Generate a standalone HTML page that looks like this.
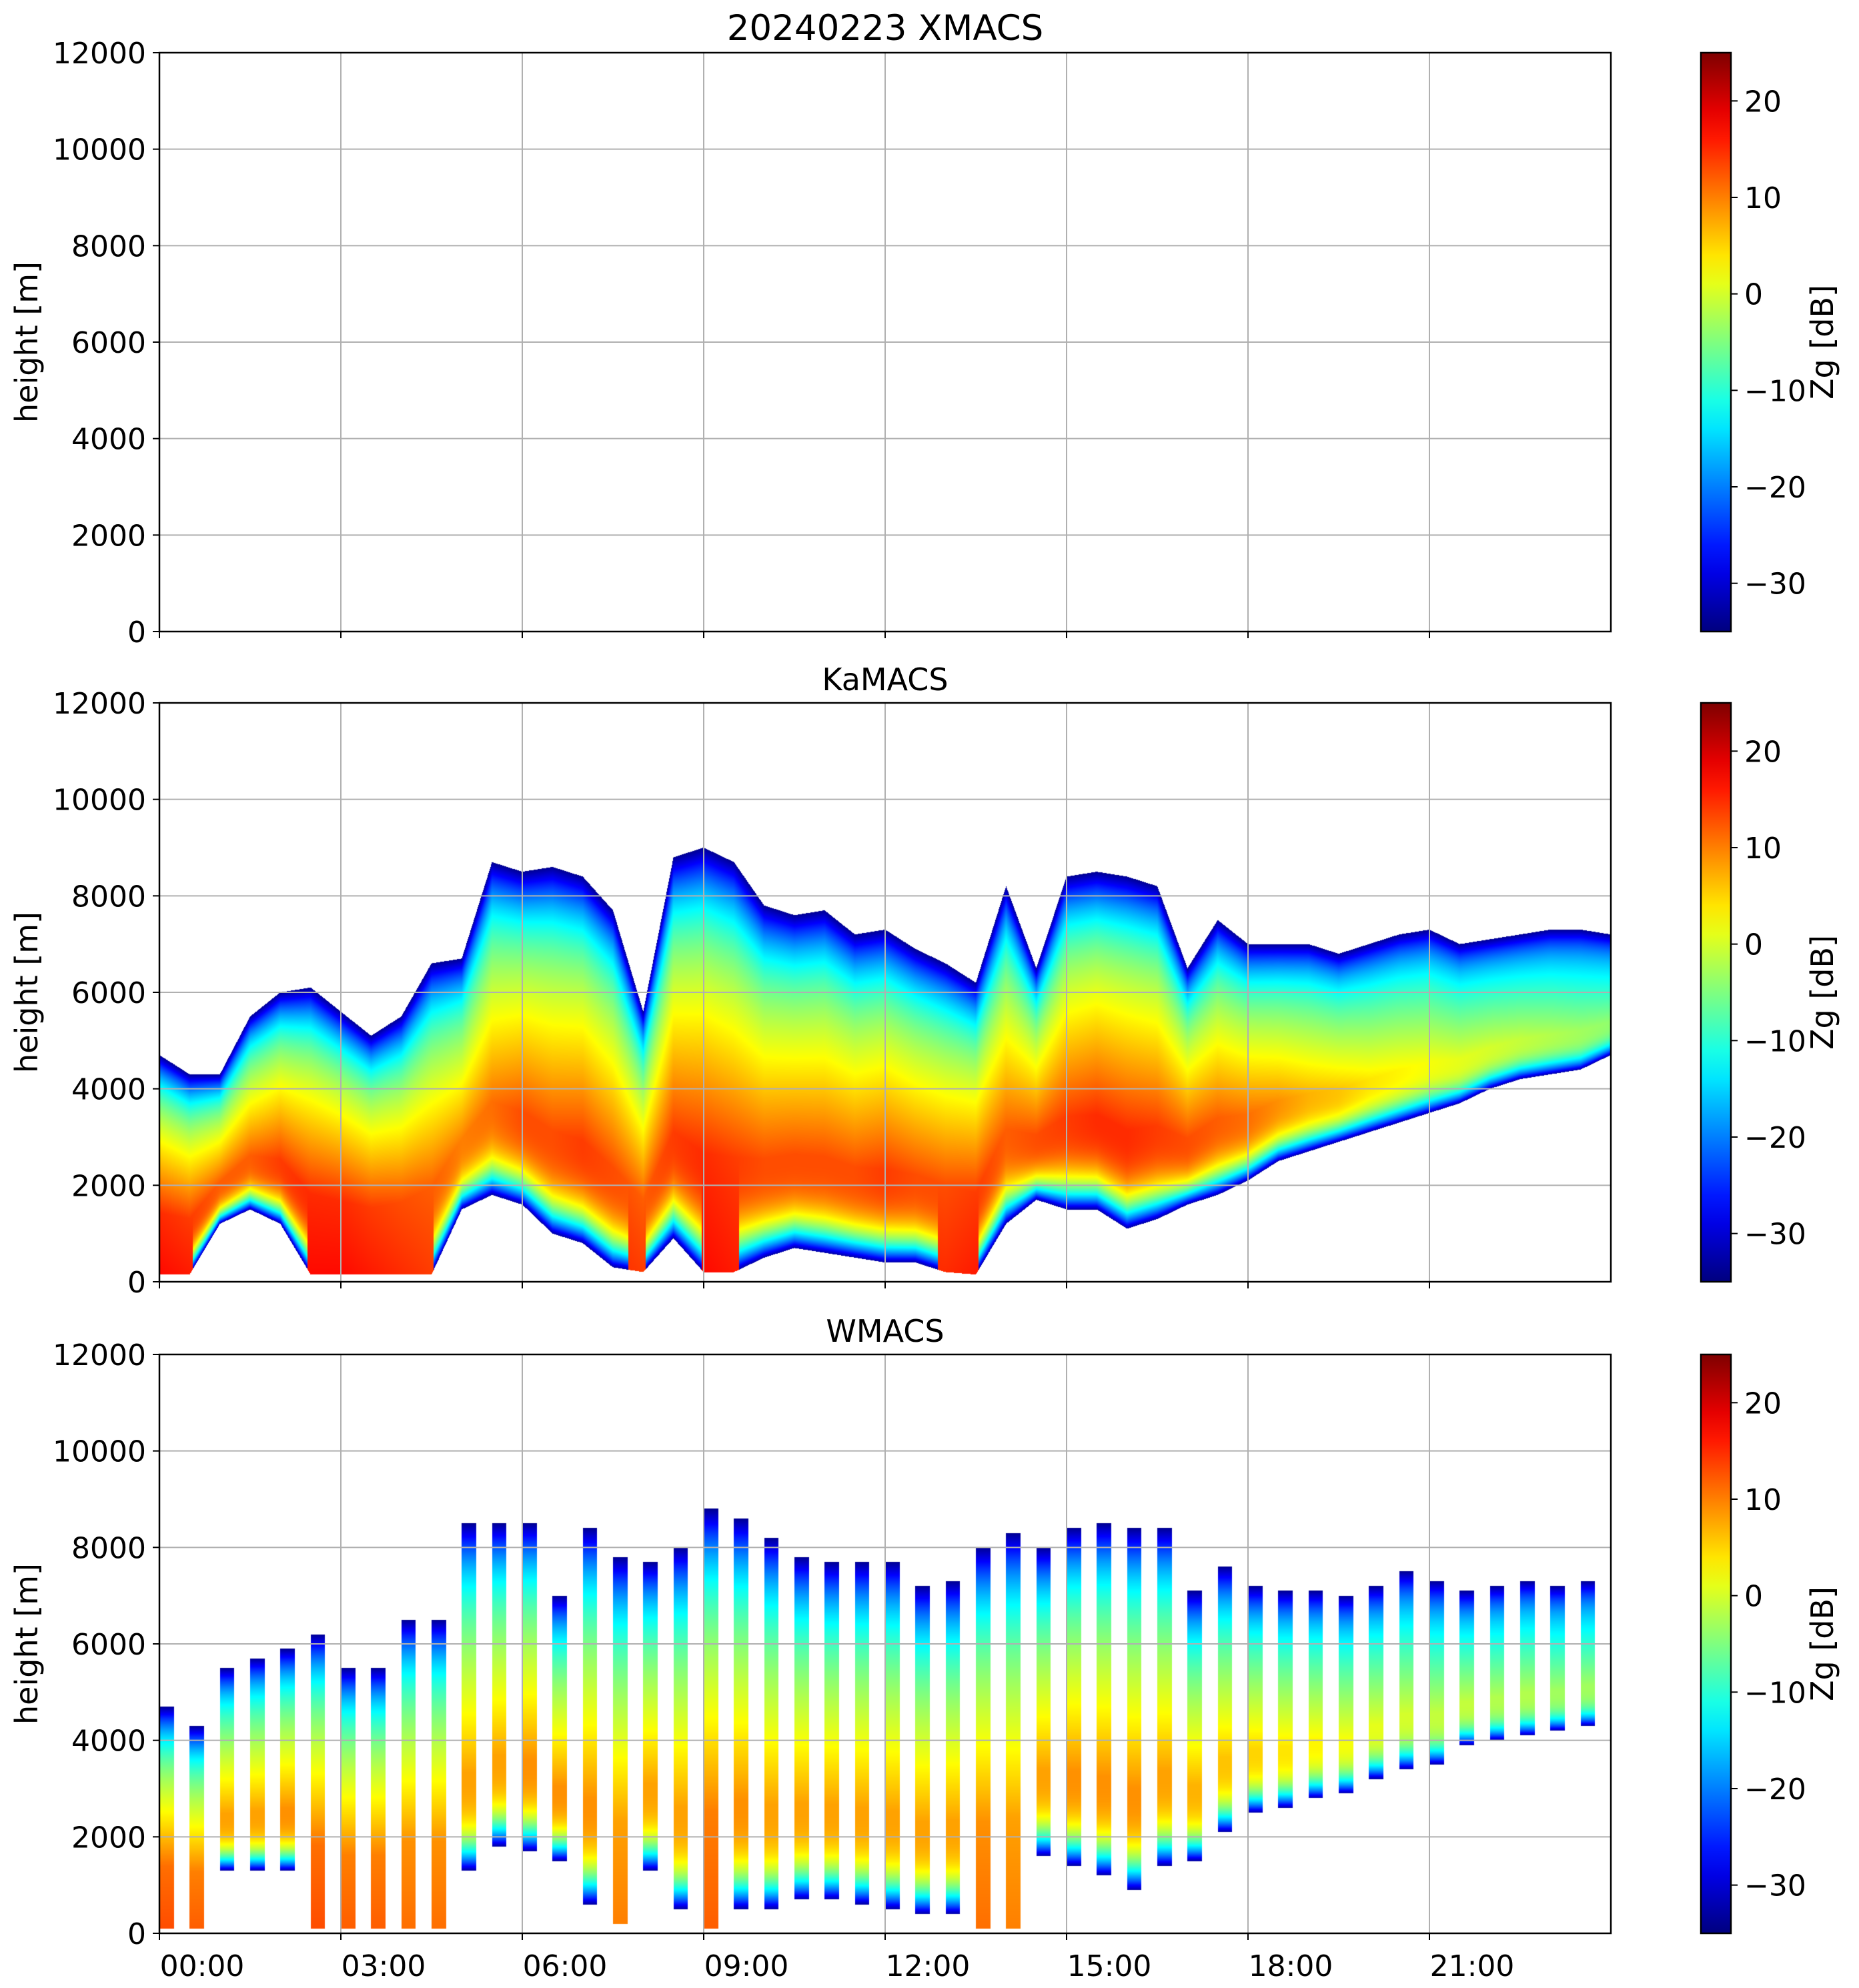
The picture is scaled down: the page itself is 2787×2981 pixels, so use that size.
<!DOCTYPE html>
<html><head><meta charset="utf-8"><style>
html,body{margin:0;padding:0;background:#fff;}
#root{position:relative;width:2787px;height:2981px;overflow:hidden;font-family:"DejaVu Sans","Liberation Sans",sans-serif;}
canvas{position:absolute;}
svg{position:absolute;left:0;top:0;}
</style></head><body>
<div id="root">
<canvas id="cKa" width="2176" height="868" style="left:239px;top:1054px"></canvas>
<canvas id="cW" width="2176" height="868" style="left:239px;top:2031px"></canvas>
<svg id="ov" width="2787" height="2981"></svg>
</div>
<script>
// ---- data ----
const kaTimes = [0,0.5,1,1.5,2,2.5,3,3.5,4,4.5,5,5.5,6,6.5,7,7.5,8,8.5,9,9.5,10,10.5,11,11.5,12,12.5,13,13.5,14,14.5,15,15.5,16,16.5,17,17.5,18,18.5,19,19.5,20,20.5,21,21.5,22,22.5,23,23.5,24];
const kaTop = [4700,4300,4300,5500,6000,6100,5600,5100,5500,6600,6700,8700,8500,8600,8400,7700,5600,8800,9000,8700,7800,7600,7700,7200,7300,6900,6600,6200,8200,6500,8400,8500,8400,8200,6500,7500,7000,7000,7000,6800,7000,7200,7300,7000,7100,7200,7300,7300,7200];
const kaBase = [150,150,1200,1500,1200,150,150,150,150,150,1500,1800,1600,1000,800,300,200,900,200,200,500,700,600,500,400,400,200,150,1200,1700,1500,1500,1100,1300,1600,1800,2100,2500,2700,2900,3100,3300,3500,3700,4000,4200,4300,4400,4700];
const kaMax = [15,14,12,12,14,15,15,14,13,12,10,11,13,13,14,13,12,14,15,14,13,13,13,13,14,13,13,14,12,13,14,15,15,14,13,12,11,9,7,6,4,3,2,1,0,-1,-2,-3,-4];
const wStart = [0,0.5,1,1.5,2,2.5,3,3.5,4,4.5,5,5.5,6,6.5,7,7.5,8,8.5,9,9.5,10,10.5,11,11.5,12,12.5,13,13.5,14,14.5,15,15.5,16,16.5,17,17.5,18,18.5,19,19.5,20,20.5,21,21.5,22,22.5,23,23.5];
const wTop = [4700,4300,5500,5700,5900,6200,5500,5500,6500,6500,8500,8500,8500,7000,8400,7800,7700,8000,8800,8600,8200,7800,7700,7700,7700,7200,7300,8000,8300,8000,8400,8500,8400,8400,7100,7600,7200,7100,7100,7000,7200,7500,7300,7100,7200,7300,7200,7300];
const wBase = [100,100,1300,1300,1300,100,100,100,100,100,1300,1800,1700,1500,600,200,1300,500,100,500,500,700,700,600,500,400,400,100,100,1600,1400,1200,900,1400,1500,2100,2500,2600,2800,2900,3200,3400,3500,3900,4000,4100,4200,4300];
const wMax = [11,10,8,8,9,11,10,10,9,9,8,8,9,9,9,8,8,8,10,9,8,8,8,8,8,8,8,9,8,8,9,9,9,8,7,6,5,4,3,2,1,0,-1,-1,-2,-2,-3,-3];
const wDur = 0.24;
const yTicks = [0,2000,4000,6000,8000,10000,12000];
const xTicks = [0,3,6,9,12,15,18,21];
const xTickLabels = ["00:00","03:00","06:00","09:00","12:00","15:00","18:00","21:00"];
const cbTicks = [-30,-20,-10,0,10,20];
const titles = ["20240223 XMACS","KaMACS","WMACS"];

// ---- geometry ----
const L=239,R=2415,W=R-L,H=868,tops=[79,1054,2031];
const VMIN=-35,VMAX=25;
function xs(t){return L+t/24*W;}
function ys(h,p){return tops[p]+H-h/12000*H;}
function jet(v){
  const clip=x=>Math.max(0,Math.min(1,x));
  const r=clip(Math.min(4*v-1.5,-4*v+4.5)),g=clip(Math.min(4*v-0.5,-4*v+3.5)),b=clip(Math.min(4*v+0.5,-4*v+2.5));
  return [r*255,g*255,b*255];
}
function interp(arrX,arrY,x){
  if(x<=arrX[0])return arrY[0];
  for(let i=1;i<arrX.length;i++){if(x<=arrX[i]){const f=(x-arrX[i-1])/(arrX[i]-arrX[i-1]);return arrY[i-1]+f*(arrY[i]-arrY[i-1]);}}
  return arrY[arrY.length-1];
}
function profile(h,base,top,zmax){
  if(h<base||h>top)return null;
  const r=(h-base)/(top-base),rc=0.28;
  let z;
  if(r>rc){const q=(r-rc)/(1-rc);z=zmax-(zmax+34)*(0.55*q+0.45*Math.pow(q,6));}
  else{ if(base<=250) z=zmax+2*(rc-r)/rc; else {const q=(rc-r)/rc; z=zmax-(zmax+33)*Math.pow(q,3.2);} }
  return z;
}
function paint(id,fn){
  const c=document.getElementById(id),ctx=c.getContext('2d');
  const img=ctx.createImageData(W,H),d=img.data;
  for(let px=0;px<W;px++){
    const t=(px+0.5)/W*24;
    const col=fn(t);
    if(!col)continue;
    for(let py=0;py<H;py++){
      const h=(H-py-0.5)/H*12000;
      const z=profile(h,col[0],col[1],col[2]);
      if(z===null)continue;
      const [r,g,b]=jet(Math.max(0,Math.min(1,(z-VMIN)/(VMAX-VMIN))));
      const k=(py*W+px)*4;d[k]=r;d[k+1]=g;d[k+2]=b;d[k+3]=255;
    }
  }
  ctx.putImageData(img,0,0);
}
paint('cKa',t=>[interp(kaTimes,kaBase,t),interp(kaTimes,kaTop,t),interp(kaTimes,kaMax,t)]);
paint('cW',t=>{
  for(let i=0;i<wStart.length;i++){if(t>=wStart[i]&&t<wStart[i]+wDur)return [wBase[i],wTop[i],wMax[i]];}
  return null;
});

// ---- overlay ----
const NS='http://www.w3.org/2000/svg',svg=document.getElementById('ov');
function el(tag,attrs,parent){const e=document.createElementNS(NS,tag);for(const k in attrs)e.setAttribute(k,attrs[k]);(parent||svg).appendChild(e);return e;}
const defs=el('defs',{});
const lg=el('linearGradient',{id:'jetg',x1:0,y1:1,x2:0,y2:0},defs);
for(let i=0;i<=20;i++){const [r,g,b]=jet(i/20);el('stop',{offset:i/20,'stop-color':`rgb(${r|0},${g|0},${b|0})`},lg);}
for(let p=0;p<3;p++){
  const T=tops[p],B=T+H;
  const g=el('g',{});
  
  
  xTicks.forEach(t=>{const l=el('line',{x1:xs(t),x2:xs(t),y1:T,y2:B,stroke:'#b0b0b0','stroke-width':2},g);
    const tk=el('line',{x1:xs(t),x2:xs(t),y1:B,y2:B+10,stroke:'#000','stroke-width':2},g);});
  yTicks.forEach(v=>{const y=ys(v,p);const l=el('line',{x1:L,x2:R,y1:y,y2:y,stroke:'#b0b0b0','stroke-width':2},g);
    const tk=el('line',{x1:L-10,x2:L,y1:y,y2:y,stroke:'#000','stroke-width':2},g);
    const tx=el('text',{x:L-20,y:y+16,'text-anchor':'end','font-size':44},g);tx.textContent=v;});
  const fr=el('rect',{x:L,y:T,width:W,height:H,fill:'none',stroke:'#000','stroke-width':2.5},g);
  const ti=el('text',{x:(L+R)/2,y:T-19,'text-anchor':'middle','font-size':p==0?53:46},g);ti.textContent=titles[p];
  const yl=el('text',{x:0,y:0,'text-anchor':'middle','font-size':46,transform:`translate(56,${T+H/2}) rotate(-90)`},g);yl.textContent='height [m]';
  const cb=el('rect',{x:2550,y:T,width:45,height:H,fill:'url(#jetg)',stroke:'#000','stroke-width':2.5},g);
  cbTicks.forEach(v=>{const y=T+H-(v-VMIN)/(VMAX-VMIN)*H;
    const tk=el('line',{x1:2595,x2:2605,y1:y,y2:y,stroke:'#000','stroke-width':2},g);
    const tx=el('text',{x:2615,y:y+16,'font-size':44},g);tx.textContent=(v<0?'\u2212'+(-v):v);});
  const cl=el('text',{x:0,y:0,'text-anchor':'middle','font-size':46,transform:`translate(2748,${T+H/2}) rotate(-90)`},g);cl.textContent='Zg [dB]';
  if(p==2){xTicks.forEach((t,i)=>{const tx=el('text',{x:xs(t)+64,y:B+64,'text-anchor':'middle','font-size':44},g);tx.textContent=xTickLabels[i];});}
}
</script>
</body></html>
